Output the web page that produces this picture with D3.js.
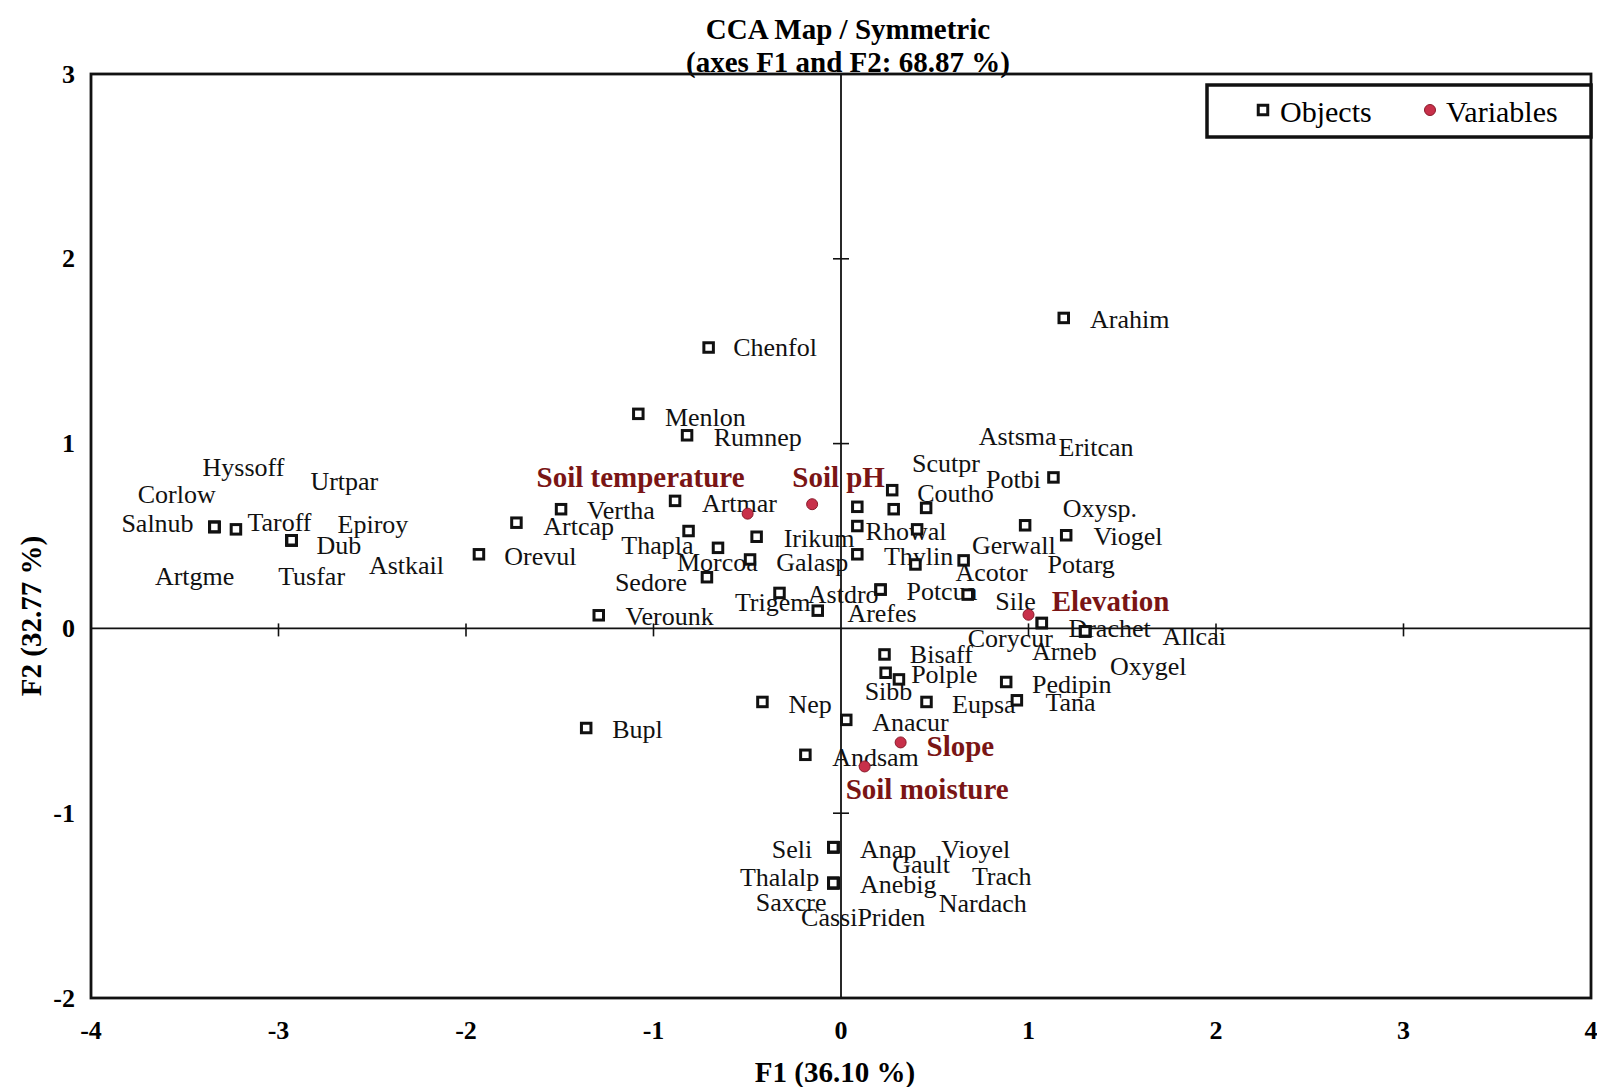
<!DOCTYPE html>
<html>
<head>
<meta charset="utf-8">
<script src="https://cdn.jsdelivr.net/npm/d3@7"></script>
<style>
  html, body { margin: 0; padding: 0; background: #fff; }
  text { font-family: "Liberation Serif", "Times New Roman", serif; }
</style>
</head>
<body>
<div id="chart"></div>
<script>
// CCA map, objects (species) and variables on F1 / F2
const objectNames = ["Salnub","Taroff","Dub","Hyssoff","Corlow","Urtpar","Epiroy","Artgme","Tusfar","Astkail",
  "Orevul","Artcap","Vertha","Chenfol","Menlon","Rumnep","Artmar","Thapla","Morcoa","Irikum",
  "Galasp","Sedore","Trigem","Verounk","Arefes","Astdro","Potcua","Sile","Scutpr","Coutho",
  "Astsma","Eritcan","Rhowal","Oxysp.","Thylin","Potarg","Acotor","Gerwall","Viogel","Potbi",
  "Arahim","Drachet","Allcai","Corycur","Arneb","Oxygel","Bisaff","Polple","Sibb","Eupsa",
  "Pedipin","Tana","Nep","Anacur","Bupl","Andsam","Seli","Anap","Vioyel","Gault",
  "Thalalp","Anebig","Trach","Saxcre","CassiPriden","Nardach"];
const objectF1 = [-3.342,-3.227,-2.930,-3.342,-3.342,-2.930,-2.930,-3.342,-2.930,-2.930,
  -1.931,-1.731,-1.493,-0.706,-1.081,-0.821,-0.885,-0.813,-0.656,-0.450,
  -0.485,-0.715,-0.328,-1.292,-0.124,0.211,0.211,0.676,0.273,0.454,
  0.087,0.281,0.087,0.406,0.087,0.397,0.654,0.982,1.201,1.133,
  1.188,1.071,1.302,1.071,1.302,1.302,0.232,0.309,0.238,0.456,
  0.881,0.938,-0.419,0.028,-1.359,-0.190,-0.041,-0.041,-0.041,-0.041,
  -0.041,-0.041,-0.041,-0.041,-0.041,-0.041];
const objectF2 = [0.549,0.536,0.477,0.549,0.549,0.477,0.477,0.549,0.477,0.477,
  0.401,0.572,0.645,1.520,1.161,1.045,0.690,0.527,0.436,0.496,
  0.373,0.277,0.192,0.071,0.096,0.210,0.210,0.183,0.748,0.652,
  0.658,0.645,0.554,0.536,0.401,0.346,0.368,0.558,0.504,0.817,
  1.680,0.029,-0.016,0.029,-0.016,-0.016,-0.141,-0.276,-0.240,-0.398,
  -0.290,-0.389,-0.398,-0.495,-0.539,-0.684,-1.184,-1.184,-1.184,-1.184,
  -1.378,-1.378,-1.378,-1.378,-1.378,-1.378];
// where each label sits on the map (F1, F2 of its left edge / middle)
const objectLabelF1 = [-3.838,-3.166,-2.797,-3.405,-3.751,-2.830,-2.685,-3.659,-3.002,-2.518,
  -1.796,-1.588,-1.355,-0.575,-0.939,-0.679,-0.742,-1.172,-0.875,-0.306,
  -0.346,-1.206,-0.566,-1.149,0.034,-0.177,0.349,0.823,0.379,0.406,
  0.734,1.160,0.131,1.182,0.229,1.101,0.610,0.698,1.346,0.773,
  1.328,1.213,1.714,0.676,1.018,1.434,0.367,0.374,0.126,0.592,
  1.019,1.090,-0.280,0.166,-1.220,-0.047,-0.369,0.101,0.534,0.273,
  -0.539,0.101,0.698,-0.455,-0.213,0.521];
const objectLabelF2 = [0.567,0.572,0.451,0.871,0.723,0.795,0.564,0.283,0.283,0.342,
  0.391,0.549,0.636,1.520,1.143,1.034,0.678,0.446,0.355,0.488,
  0.355,0.246,0.138,0.065,0.083,0.183,0.201,0.147,0.890,0.730,
  1.038,0.980,0.527,0.651,0.391,0.346,0.301,0.446,0.495,0.808,
  1.670,0.002,-0.043,-0.052,-0.124,-0.204,-0.141,-0.249,-0.339,-0.410,
  -0.306,-0.402,-0.410,-0.509,-0.545,-0.697,-1.195,-1.195,-1.199,-1.276,
  -1.348,-1.387,-1.342,-1.485,-1.563,-1.491];

const variableNames = ["Soil temperature","Soil pH","Elevation","Slope","Soil moisture"];
const variableF1 = [-0.498,-0.154,1.000,0.318,0.126];
const variableF2 = [0.621,0.672,0.074,-0.617,-0.747];
const variableLabelF1 = [-1.624,-0.260,1.124,0.456,0.025];
const variableLabelF2 = [0.817,0.817,0.147,-0.634,-0.867];

const xTicks = [-4,-3,-2,-1,0,1,2,3,4];
const yTicks = [-2,-1,0,1,2,3];

const W = 1597, H = 1087;
const svg = d3.select("#chart").append("svg").attr("width",W).attr("height",H);

const x = d3.scaleLinear().domain([-4,4]).range([91,1591]);
const y = d3.scaleLinear().domain([-2,3]).range([998,74]);

// title
svg.append("text").attr("x",848).attr("y",29).attr("text-anchor","middle")
  .attr("dominant-baseline","central").attr("font-size",29).attr("font-weight","bold")
  .text("CCA Map / Symmetric");
svg.append("text").attr("x",848).attr("y",62).attr("text-anchor","middle")
  .attr("dominant-baseline","central").attr("font-size",29).attr("font-weight","bold")
  .text("(axes F1 and F2: 68.87 %)");

// zero lines
svg.append("line").attr("x1",x(0)).attr("x2",x(0)).attr("y1",y(3)).attr("y2",y(-2))
  .attr("stroke","#111").attr("stroke-width",1.8);
svg.append("line").attr("x1",x(-4)).attr("x2",x(4)).attr("y1",y(0)).attr("y2",y(0))
  .attr("stroke","#111").attr("stroke-width",1.8);

// small tick crosses on the zero lines
svg.selectAll(".xt").data(xTicks.filter(d=>d>-4 && d<4 && d!=0)).enter().append("line")
  .attr("x1",d=>x(d)).attr("x2",d=>x(d)).attr("y1",y(0)-5).attr("y2",y(0)+8)
  .attr("stroke","#111").attr("stroke-width",1.6);
svg.selectAll(".yt").data(yTicks.filter(d=>d>-2 && d<3 && d!=0)).enter().append("line")
  .attr("x1",x(0)-8).attr("x2",x(0)+8).attr("y1",d=>y(d)).attr("y2",d=>y(d))
  .attr("stroke","#111").attr("stroke-width",1.6);

// frame
svg.append("rect").attr("x",x(-4)).attr("y",y(3)).attr("width",x(4)-x(-4)).attr("height",y(-2)-y(3))
  .attr("fill","none").attr("stroke","#111").attr("stroke-width",2.8);

// tick labels
svg.selectAll(".xl").data(xTicks).enter().append("text")
  .attr("x",d=>x(d)).attr("y",1030).attr("text-anchor","middle").attr("dominant-baseline","central")
  .attr("font-size",26).attr("font-weight","bold").text(d=>d);
svg.selectAll(".yl").data(yTicks).enter().append("text")
  .attr("x",75).attr("y",d=>y(d)).attr("text-anchor","end").attr("dominant-baseline","central")
  .attr("font-size",26).attr("font-weight","bold").text(d=>d);

// axis titles
svg.append("text").attr("x",835).attr("y",1072).attr("text-anchor","middle")
  .attr("dominant-baseline","central").attr("font-size",29).attr("font-weight","bold")
  .text("F1 (36.10 %)");
svg.append("text").attr("transform","translate(31,616) rotate(-90)").attr("text-anchor","middle")
  .attr("dominant-baseline","central").attr("font-size",29).attr("font-weight","bold")
  .text("F2 (32.77 %)");

// object labels
var objs = objectNames.map((n,i)=>[n, objectF1[i], objectF2[i], objectLabelF1[i], objectLabelF2[i]]);
svg.selectAll(".ol").data(objs).enter().append("text")
  .attr("x",d=>x(d[3])).attr("y",d=>y(d[4])).attr("dominant-baseline","central")
  .attr("font-size",26).attr("fill","#111").text(d=>d[0]);

// variable labels
var vars = variableNames.map((n,i)=>[n, variableF1[i], variableF2[i], variableLabelF1[i], variableLabelF2[i]]);
svg.selectAll(".vl").data(vars).enter().append("text")
  .attr("x",d=>x(d[3])).attr("y",d=>y(d[4])).attr("dominant-baseline","central")
  .attr("font-size",29).attr("font-weight","bold").attr("fill","#7a1515").text(d=>d[0]);

// object markers
const sq = 9.5;
svg.selectAll(".om").data(objs).enter().append("rect")
  .attr("x",d=>x(d[1])-sq/2).attr("y",d=>y(d[2])-sq/2).attr("width",sq).attr("height",sq)
  .attr("fill","#fff").attr("stroke","#111").attr("stroke-width",3);

// variable points
svg.selectAll(".vm").data(vars).enter().append("circle")
  .attr("cx",d=>x(d[1])).attr("cy",d=>y(d[2])).attr("r",5.5)
  .attr("fill","#c8304a").attr("stroke","#8a1a2a").attr("stroke-width",1);

// legend
var lg = svg.append("g");
lg.append("rect").attr("x",1207).attr("y",85).attr("width",384).attr("height",52)
  .attr("fill","#fff").attr("stroke","#111").attr("stroke-width",3.5);
lg.append("rect").attr("x",1263-sq/2).attr("y",110-sq/2).attr("width",sq).attr("height",sq)
  .attr("fill","#fff").attr("stroke","#111").attr("stroke-width",3);
lg.append("text").attr("x",1280).attr("y",111).attr("dominant-baseline","central")
  .attr("font-size",30).text("Objects");
lg.append("circle").attr("cx",1430).attr("cy",110).attr("r",5.5)
  .attr("fill","#c8304a").attr("stroke","#8a1a2a").attr("stroke-width",1);
lg.append("text").attr("x",1446).attr("y",111).attr("dominant-baseline","central")
  .attr("font-size",30).text("Variables");
</script>
</body>
</html>
